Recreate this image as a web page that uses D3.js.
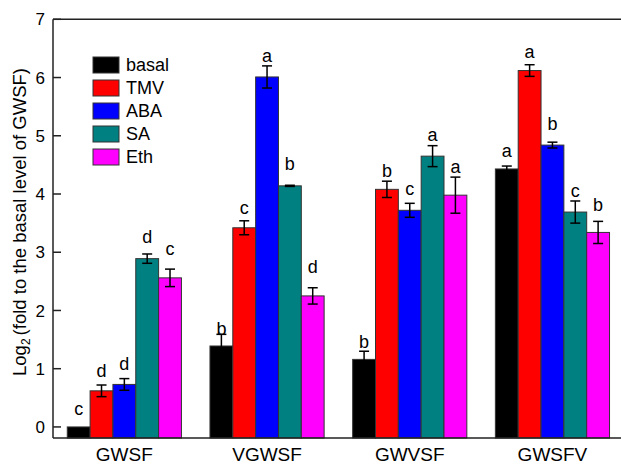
<!DOCTYPE html>
<html>
<head>
<meta charset="utf-8">
<script src="https://cdn.jsdelivr.net/npm/d3@7"></script>
<style>
	body { margin: 0; background: #fff; }
	text { font-family: Arial, "Liberation Sans", sans-serif; fill: #000; }
</style>
</head>
<body>
<div id="chart"></div>
<script>
// groups on the x axis and treatments in each group
var groups = ['GWSF', 'VGWSF', 'GWVSF', 'GWSFV'];
var treatments = ['basal', 'TMV', 'ABA', 'SA', 'Eth'];
var colors = ['#000000', '#ff0000', '#0000ff', '#008080', '#ff00ff'];

// log2 values, one row per group (basal, TMV, ABA, SA, Eth)
var values = [
	[0.00, 0.62, 0.73, 2.89, 2.56],
	[1.39, 3.42, 6.01, 4.14, 2.25],
	[1.16, 4.08, 3.72, 4.65, 3.98],
	[4.43, 6.12, 4.84, 3.69, 3.34]
];
var errors = [
	[0.00, 0.10, 0.10, 0.08, 0.15],
	[0.20, 0.12, 0.19, 0.01, 0.14],
	[0.14, 0.14, 0.12, 0.18, 0.31],
	[0.05, 0.10, 0.05, 0.19, 0.19]
];
// significance letters and the height they sit at
var letters = [
	['c', 'd', 'd', 'd', 'c'],
	['b', 'c', 'a', 'b', 'd'],
	['b', 'b', 'c', 'a', 'a'],
	['a', 'a', 'b', 'c', 'b']
];
var letterAt = [
	[0.20, 0.86, 0.98, 3.16, 2.95],
	[1.58, 3.66, 6.27, 4.41, 2.64],
	[1.36, 4.29, 3.98, 4.91, 4.36],
	[4.64, 6.34, 5.10, 3.95, 3.71]
];
var yTicks = [0, 1, 2, 3, 4, 5, 6, 7];

var width = 621, height = 464;
var plotLeft = 53, plotTop = 19.3, plotBottom = 438;

var svg = d3.select('#chart')
	.append('svg')
	.attr('width', width)
	.attr('height', height);

var x = d3.scaleBand()
	.domain(groups)
	.range([plotLeft, plotLeft + 570.8])
	.paddingInner(0.2)
	.paddingOuter(0.1);

var xs = d3.scaleBand()
	.domain(treatments)
	.range([0, x.bandwidth()]);

var y = d3.scaleLinear()
	.domain([-0.19, 7])
	.range([plotBottom, plotTop]);

// bars grow from the bottom of the axis
var base = y.domain()[0];

var g = svg.selectAll('g.group')
	.data(groups)
	.enter()
	.append('g')
	.attr('class', 'group')
	.attr('transform', function (d) { return 'translate(' + x(d) + ',0)'; });

g.each(function (grp, gi) {
	var sel = d3.select(this);
	treatments.forEach(function (t, ti) {
		var v = values[gi][ti];
		var e = errors[gi][ti];
		var bx = xs(t);
		var cx = bx + xs.bandwidth() / 2;

		sel.append('rect')
			.attr('x', bx)
			.attr('y', y(v))
			.attr('width', xs.bandwidth())
			.attr('height', y(base) - y(v))
			.attr('fill', colors[ti])
			.attr('stroke', '#333')
			.attr('stroke-width', 1);

		if (e > 0) {
			var ep = sel.append('g')
				.attr('stroke', '#000')
				.attr('stroke-width', 1.5);
			ep.append('line')
				.attr('x1', cx).attr('x2', cx)
				.attr('y1', y(v - e)).attr('y2', y(v + e));
			ep.append('line')
				.attr('x1', cx - 5).attr('x2', cx + 5)
				.attr('y1', y(v - e)).attr('y2', y(v - e));
			ep.append('line')
				.attr('x1', cx - 5).attr('x2', cx + 5)
				.attr('y1', y(v + e)).attr('y2', y(v + e));
		}

		sel.append('text')
			.attr('x', cx)
			.attr('y', y(letterAt[gi][ti]))
			.attr('text-anchor', 'middle')
			.style('font-size', '18px')
			.text(letters[gi][ti]);
	});
});

// axes frame
var frame = svg.append('g')
	.attr('stroke', '#222')
	.attr('stroke-width', 1.5);
frame.append('line')
	.attr('x1', plotLeft).attr('x2', width)
	.attr('y1', plotBottom).attr('y2', plotBottom);
frame.append('line')
	.attr('x1', plotLeft).attr('x2', width)
	.attr('y1', plotTop).attr('y2', plotTop);
frame.append('line')
	.attr('x1', plotLeft).attr('x2', plotLeft)
	.attr('y1', plotTop).attr('y2', plotBottom);

// y ticks inside, labels outside
yTicks.forEach(function (t) {
	frame.append('line')
		.attr('x1', plotLeft).attr('x2', plotLeft + 8)
		.attr('y1', y(t)).attr('y2', y(t));
	svg.append('text')
		.attr('x', plotLeft - 8)
		.attr('y', y(t))
		.attr('dy', '0.36em')
		.attr('text-anchor', 'end')
		.style('font-size', '17px')
		.text(t);
});

// category labels
groups.forEach(function (grp) {
	svg.append('text')
		.attr('x', x(grp) + x.bandwidth() / 2)
		.attr('y', 461)
		.attr('text-anchor', 'middle')
		.style('font-size', '19px')
		.text(grp);
});

// y axis title
var title = svg.append('text')
	.attr('transform', 'translate(26,222) rotate(-90)')
	.attr('text-anchor', 'middle')
	.style('font-size', '18.5px');
title.append('tspan').text('Log');
title.append('tspan').attr('dy', 4).style('font-size', '12px').text('2');
title.append('tspan').attr('dy', -4).attr('dx', 3).text('(fold to the basal level of GWSF)');

// legend
var legend = svg.append('g').attr('transform', 'translate(93,57)');
treatments.forEach(function (t, i) {
	legend.append('rect')
		.attr('x', 0)
		.attr('y', i * 23)
		.attr('width', 26)
		.attr('height', 16)
		.attr('fill', colors[i])
		.attr('stroke', '#333')
		.attr('stroke-width', 1);
	legend.append('text')
		.attr('x', 33)
		.attr('y', i * 23 + 8)
		.attr('dy', '0.36em')
		.style('font-size', '18px')
		.text(t);
});
</script>
</body>
</html>
